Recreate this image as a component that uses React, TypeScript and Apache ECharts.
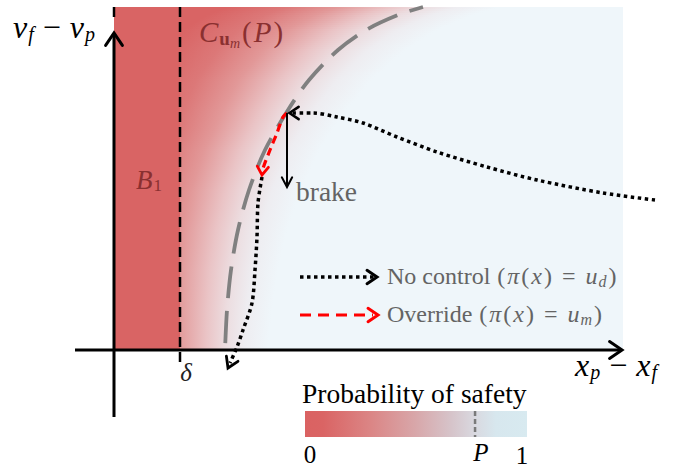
import React, { useEffect, useRef } from "react";
import * as echarts from "echarts";

// ---- coordinate frame (data units; axes hidden, drawn as marks) ----
const X_MIN = -11.4;
const X_MAX = 58.0;
const Y_MIN = -12.1;
const Y_MAX = 35.0;

// axes extents
const xAxisFrom = -3.9;
const xAxisTo = 50.8;
const yAxisFrom = -6.7;
const yAxisTo = 31.7;

// regions
const delta = 6.6;
const regionTop = 34.3;
const regionRight = 50.9;

// P-level boundary C_um(P)
const boundaryX = [11.1, 11.3, 11.7, 12.4, 13.5, 15.1, 17.4, 19.5, 22.4, 25.2, 28.4, 30.9];
const boundaryV = [0, 4, 8, 12, 16, 20, 24, 27, 30, 32, 33.5, 34.3];

// trajectory with no control (coming from the right)
const noControlX = [54.1, 48.9, 42.3, 37.3, 32.3, 28.3, 24.9, 22.3, 19.9, 17.8];
const noControlV = [15.0, 15.7, 17.0, 18.3, 19.8, 21.3, 22.7, 23.3, 23.7, 23.7];

// override segment along the boundary
const overrideX = [17.3, 16.9, 16.3, 15.6, 14.95, 14.8];
const overrideV = [23.7, 23.3, 21.7, 20.0, 18.3, 17.6];

// trajectory after override ends
const afterX = [14.8, 14.4, 14.3, 14.1, 13.8, 12.9, 12.3, 11.6];
const afterV = [17.3, 14.7, 11.3, 8.0, 4.7, 2.0, 0.3, -1.3];

// brake arrow
const brakeX = [17.3, 17.3];
const brakeV = [23.7, 16.5];

// legend key samples
const legendDotX = [18.6, 26.0];
const legendDotV = [7.3, 7.3];
const legendDashX = [18.6, 25.9];
const legendDashV = [3.5, 3.5];

// probability colour scale (colorbar)
const P = 0.766;
const barStops = [0, 0.08, 0.3, 0.5, 0.66, 0.766, 0.86, 1];
const barColors = ["#da6262", "#da6464", "#db8686", "#d8a7aa", "#d6c4ca", "#d9d9e0", "#d7e7ee", "#d8eaf0"];

// field colours in the plot, by normalised offset from the boundary
const fieldU = [-1.15, -0.8, -0.5, -0.2, 0, 0.2, 0.45];
const fieldColors = ["#d96464", "#dc7878", "#e29898", "#eac4c6", "#ecdde0", "#eeedf1", "#eff6fa"];
const fieldSigmaV = [0, 12, 22, 30, 34.3];
const fieldSigma = [9.5, 11, 12.5, 15, 17];

const FONT = '"Liberation Serif", "DejaVu Serif", "Times New Roman", serif';
const DARK_RED = "#8a3030";
const GRAY_TEXT = "#646464";

function lerp(xs: number[], ys: number[], v: number): number {
  if (v <= xs[0]) return ys[0];
  for (let i = 1; i < xs.length; i++) {
    if (v <= xs[i]) {
      const t = (v - xs[i - 1]) / (xs[i] - xs[i - 1]);
      return ys[i - 1] + t * (ys[i] - ys[i - 1]);
    }
  }
  return ys[ys.length - 1];
}

function pairs(xs: number[], ys: number[]) {
  return xs.map((x, i) => [x, ys[i]]);
}

function lineSeries(xs: number[], ys: number[], color: string, width: number, dash: any, z: number, smooth: number | boolean, dashOffset = 0) {
  return {
    type: "line",
    data: pairs(xs, ys),
    symbol: "none",
    showSymbol: false,
    smooth,
    clip: false,
    silent: true,
    z,
    lineStyle: { color, width, type: dash, cap: "butt", dashOffset, join: "round" },
  };
}

function arrowSeries(data: number[][], color: string, len: number, halfAngle: number, width: number, z: number) {
  return {
    type: "custom",
    coordinateSystem: "cartesian2d",
    silent: true,
    clip: false,
    z,
    data,
    renderItem: (_p: any, api: any) => {
      const tx = api.value(0);
      const ty = api.value(1);
      const tip = api.coord([tx, ty]);
      const back = api.coord([tx - api.value(2), ty - api.value(3)]);
      let dx = back[0] - tip[0];
      let dy = back[1] - tip[1];
      const n = Math.hypot(dx, dy) || 1;
      dx /= n;
      dy /= n;
      const a = (halfAngle * Math.PI) / 180;
      const r = (ang: number) => [dx * Math.cos(ang) - dy * Math.sin(ang), dx * Math.sin(ang) + dy * Math.cos(ang)];
      const r1 = r(a);
      const r2 = r(-a);
      return {
        type: "polyline",
        shape: {
          points: [
            [tip[0] + r1[0] * len, tip[1] + r1[1] * len],
            [tip[0], tip[1]],
            [tip[0] + r2[0] * len, tip[1] + r2[1] * len],
          ],
        },
        style: { stroke: color, lineWidth: width, fill: "none", lineJoin: "miter", lineCap: "round" },
      };
    },
  };
}

function rectSeries(data: number[][], fill: string, z: number) {
  return {
    type: "custom",
    coordinateSystem: "cartesian2d",
    silent: true,
    clip: false,
    z,
    data,
    renderItem: (_p: any, api: any) => {
      const a = api.coord([api.value(0), api.value(1)]);
      const b = api.coord([api.value(2), api.value(3)]);
      return {
        type: "rect",
        shape: { x: Math.min(a[0], b[0]), y: Math.min(a[1], b[1]), width: Math.abs(b[0] - a[0]), height: Math.abs(b[1] - a[1]) },
        style: { fill },
      };
    },
  };
}

function fieldSeries() {
  return {
    type: "custom",
    coordinateSystem: "cartesian2d",
    silent: true,
    clip: false,
    z: 1,
    data: [[delta, 0, regionRight, regionTop]],
    renderItem: (_p: any, api: any) => {
      const bl = api.coord([api.value(0), api.value(1)]);
      const tr = api.coord([api.value(2), api.value(3)]);
      const left = bl[0];
      const right = tr[0];
      const bottom = bl[1];
      const top = tr[1];
      const unit = api.size([1, 1]);
      const children: any[] = [];
      const step = 2;
      const u0 = fieldU[0];
      const u1 = fieldU[fieldU.length - 1];
      const colorStops = fieldU.map((u, i) => ({ offset: (u - u0) / (u1 - u0), color: fieldColors[i] }));
      for (let y = top; y < bottom; y += step) {
        const h = Math.min(step, bottom - y);
        const v = (bottom - (y + h / 2)) / unit[1];
        const c = api.coord([lerp(boundaryV, boundaryX, v), 0])[0];
        const sig = lerp(fieldSigmaV, fieldSigma, v) * unit[0];
        children.push({
          type: "rect",
          shape: { x: left, y, width: right - left, height: h + (y + h < bottom ? 0.6 : 0) },
          style: {
            fill: { type: "linear", x: c + u0 * sig, y: 0, x2: c + u1 * sig, y2: 0, global: true, colorStops },
          },
        });
      }
      return { type: "group", children };
    },
  };
}

function mathRich(size: number, sub: number, opPad = 7) {
  return {
    it: { fontFamily: FONT, fontStyle: "italic", fontSize: size, padding: [0, 1, 0, 1] },
    rm: { fontFamily: FONT, fontSize: size },
    par: { fontFamily: FONT, fontSize: size, padding: [0, 1, 0, 1] },
    op: { fontFamily: FONT, fontSize: size, padding: [0, opPad, 0, opPad] },
    sub: { fontFamily: FONT, fontStyle: "italic", fontSize: sub, padding: [Math.round(size * 0.42), 1, 0, 0] },
    subr: { fontFamily: FONT, fontSize: sub, padding: [Math.round(size * 0.42), 1, 0, 0] },
    subb: { fontFamily: FONT, fontWeight: "bold", fontSize: sub, padding: [Math.round(size * 0.42), 0, 0, 0] },
    subsub: { fontFamily: FONT, fontStyle: "italic", fontSize: Math.round(sub * 0.72), padding: [Math.round(size * 0.78), 1, 0, 0] },
  };
}

export default function App() {
  const ref = useRef<HTMLDivElement>(null);
  useEffect(() => {
    if (!ref.current) return;
    const chart = echarts.init(ref.current, undefined, { renderer: "svg" });
    const option: any = {
      animation: false,
      backgroundColor: "#ffffff",
      grid: { left: 0, right: 0, top: 0, bottom: 0 },
      xAxis: { type: "value", min: X_MIN, max: X_MAX, show: false },
      yAxis: { type: "value", min: Y_MIN, max: Y_MAX, show: false },
      series: [
        fieldSeries(),
        rectSeries([[0, 0, delta, regionTop]], "#d96464", 2),
        // short dashed left border of B1 above the axis arrow
        lineSeries([0, 0], [regionTop, 33.3], "#000", 2.5, "solid", 3, false),
        lineSeries([delta, delta], [regionTop, -1.2], "#000", 2.5, [10, 5], 3, false),
        lineSeries(boundaryX, boundaryV, "#808080", 3.8, [32, 13], 4, 0.3, 38),
        lineSeries(overrideX, overrideV, "#ff0000", 3.2, [8, 5], 5, 0.3),
        arrowSeries([[14.8, 17.5, -0.1, -1]], "#ff0000", 10, 34, 2.8, 6),
        lineSeries(brakeX, brakeV, "#000", 2, "solid", 5, false),
        arrowSeries([[17.3, 16.3, 0, -1]], "#000", 11, 28, 2, 6),
        lineSeries(noControlX, noControlV, "#000", 3.5, [3.5, 3.5], 5, 0.3),
        arrowSeries([[17.55, 23.7, -1, 0]], "#000", 11, 34, 2.6, 6),
        lineSeries(afterX, afterV, "#000", 3.5, [3.5, 3.5], 5, 0.3),
        arrowSeries([[11.4, -1.8, -0.45, -1]], "#000", 12, 32, 2.8, 6),
        // legend keys
        lineSeries(legendDotX, legendDotV, "#000", 3.5, [3.5, 3.5], 5, false),
        arrowSeries([[26.3, 7.3, 1, 0]], "#000", 12, 34, 3, 6),
        lineSeries(legendDashX, legendDashV, "#ff0000", 3, [11, 7], 5, false),
        arrowSeries([[26.4, 3.5, 1, 0]], "#ff0000", 12, 34, 3, 6),
        // axes
        lineSeries([xAxisFrom, xAxisTo - 0.15], [0, 0], "#000", 3, "solid", 8, false),
        arrowSeries([[xAxisTo, 0, 1, 0]], "#000", 15, 34, 3, 8),
        lineSeries([0, 0], [yAxisFrom, yAxisTo - 0.15], "#000", 3, "solid", 8, false),
        arrowSeries([[0, yAxisTo, 0, 1]], "#000", 15, 34, 3, 8),
      ],
      graphic: [
        {
          type: "text",
          x: 12,
          y: 27,
          z: 20,
          style: {
            text: "{it|v}{sub|f}{op|−}{it|v}{sub|p}",
            rich: mathRich(32, 20, 8),
            fill: "#000",
            verticalAlign: "middle",
            align: "left",
          },
        },
        {
          type: "text",
          x: 574,
          y: 365,
          z: 20,
          style: {
            text: "{it|x}{sub|p}{op|−}{it|x}{sub|f}",
            rich: mathRich(32, 20, 8),
            fill: "#000",
            verticalAlign: "middle",
            align: "left",
          },
        },
        {
          type: "text",
          x: 186,
          y: 372,
          z: 20,
          style: { text: "δ", fontFamily: FONT, fontStyle: "italic", fontSize: 25, fill: "#222", align: "center", verticalAlign: "middle" },
        },
        {
          type: "text",
          x: 135,
          y: 180,
          z: 20,
          style: { text: "{it|B}{subr|1}", rich: mathRich(27, 17), fill: DARK_RED, verticalAlign: "middle", align: "left" },
        },
        {
          type: "text",
          x: 198,
          y: 32,
          z: 20,
          style: {
            text: "{it|C}{subb|u}{subsub|m}{par|(}{it|P}{par|)}",
            rich: mathRich(29, 19),
            fill: DARK_RED,
            verticalAlign: "middle",
            align: "left",
          },
        },
        {
          type: "text",
          x: 296,
          y: 191,
          z: 20,
          style: { text: "brake", fontFamily: FONT, fontSize: 27.5, fill: GRAY_TEXT, verticalAlign: "middle", align: "left" },
        },
        {
          type: "text",
          x: 387,
          y: 276,
          z: 20,
          style: {
            text: "{rm|No control }{par|(}{it|π}{par|(}{it|x}{par|)}{op|=}{it|u}{sub|d}{par|)}",
            rich: mathRich(24, 16, 9),
            fill: GRAY_TEXT,
            verticalAlign: "middle",
            align: "left",
          },
        },
        {
          type: "text",
          x: 387,
          y: 314,
          z: 20,
          style: {
            text: "{rm|Override }{par|(}{it|π}{par|(}{it|x}{par|)}{op|=}{it|u}{sub|m}{par|)}",
            rich: mathRich(24, 16, 9),
            fill: GRAY_TEXT,
            verticalAlign: "middle",
            align: "left",
          },
        },
        // colorbar
        {
          type: "text",
          x: 302,
          y: 393,
          z: 20,
          style: { text: "Probability of safety", fontFamily: FONT, fontSize: 27.5, fill: "#000", verticalAlign: "middle", align: "left" },
        },
        {
          type: "rect",
          z: 20,
          shape: { x: 305, y: 411, width: 222, height: 26 },
          style: {
            fill: {
              type: "linear",
              x: 0,
              y: 0,
              x2: 1,
              y2: 0,
              colorStops: barStops.map((o, i) => ({ offset: o, color: barColors[i] })),
            },
          },
        },
        {
          type: "line",
          z: 21,
          shape: { x1: 305 + 222 * P, y1: 411, x2: 305 + 222 * P, y2: 437 },
          style: { stroke: "#7a7a7a", lineWidth: 2.5, lineDash: [5, 3] },
        },
        {
          type: "text",
          x: 310,
          y: 454,
          z: 20,
          style: { text: "0", fontFamily: FONT, fontSize: 25, fill: "#000", verticalAlign: "middle", align: "center" },
        },
        {
          type: "text",
          x: 481,
          y: 452,
          z: 20,
          style: { text: "P", fontFamily: FONT, fontStyle: "italic", fontSize: 25, fill: "#000", verticalAlign: "middle", align: "center" },
        },
        {
          type: "text",
          x: 522,
          y: 455,
          z: 20,
          style: { text: "1", fontFamily: FONT, fontSize: 25, fill: "#000", verticalAlign: "middle", align: "center" },
        },
      ],
    };
    chart.setOption(option);
    return () => chart.dispose();
  }, []);
  return <div ref={ref} style={{ position: "fixed", left: 0, top: 0, width: 694, height: 471 }} />;
}
